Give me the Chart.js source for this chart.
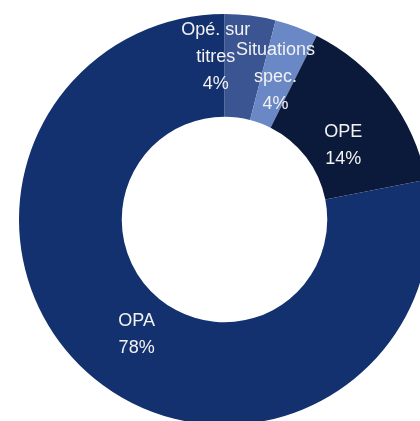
<!DOCTYPE html>
<html>
<head>
<meta charset="utf-8">
<script src="https://cdn.jsdelivr.net/npm/chart.js@4"></script>
<style>
    html, body { margin: 0; padding: 0; background: #fff; overflow: hidden; width: 420px; height: 421px; }
    #wrap { position: absolute; left: 19px; top: 14px; width: 411px; height: 411px; }
</style>
</head>
<body>
<div id="wrap"><canvas id="mixChart"></canvas></div>
<script>
// Répartition par type d'opération
const categories = [['Opé. sur', 'titres'], ['Situations', 'spec.'], ['OPE'], ['OPA']];
const shares = [4.0, 3.4, 14.5, 78.1];
const pctLabels = ['4%', '4%', '14%', '78%'];
const sliceColors = ['#3a5592', '#6a87c6', '#0b1a3b', '#13316f'];

// small nudges so the labels sit where the original put them
const labelNudge = [
    { dx: -28, dy: -10 },
    { dx: -3, dy: 2 },
    { dx: -4, dy: 19 },
    { dx: 10, dy: -4 }
];

const sliceLabels = {
    id: 'sliceLabels',
    afterDatasetsDraw(chart) {
        const ctx = chart.ctx;
        const arcs = chart.getDatasetMeta(0).data;
        ctx.save();
        ctx.fillStyle = '#f2f2f2';
        ctx.font = '18px "Liberation Sans", Arial, sans-serif';
        ctx.textAlign = 'center';
        ctx.textBaseline = 'middle';
        const lineH = 27;
        arcs.forEach((arc, i) => {
            const p = arc.getProps(['x', 'y', 'startAngle', 'endAngle', 'innerRadius', 'outerRadius'], true);
            const mid = (p.startAngle + p.endAngle) / 2;
            const r = (p.innerRadius + p.outerRadius) / 2;
            const cx = p.x + Math.cos(mid) * r + labelNudge[i].dx;
            const cy = p.y + Math.sin(mid) * r + labelNudge[i].dy;
            const lines = categories[i].concat([pctLabels[i]]);
            const top = cy - (lines.length - 1) * lineH / 2;
            lines.forEach((t, j) => ctx.fillText(t, cx, top + j * lineH));
        });
        ctx.restore();
    }
};

new Chart(document.getElementById('mixChart'), {
    type: 'doughnut',
    data: {
        labels: categories.map(c => c.join(' ')),
        datasets: [{
            data: shares,
            backgroundColor: sliceColors,
            borderWidth: 0
        }]
    },
    options: {
        responsive: true,
        maintainAspectRatio: false,
        animation: false,
        cutout: '50%',
        layout: { padding: 0 },
        plugins: {
            legend: { display: false },
            tooltip: { enabled: false }
        }
    },
    plugins: [sliceLabels]
});
</script>
</body>
</html>
